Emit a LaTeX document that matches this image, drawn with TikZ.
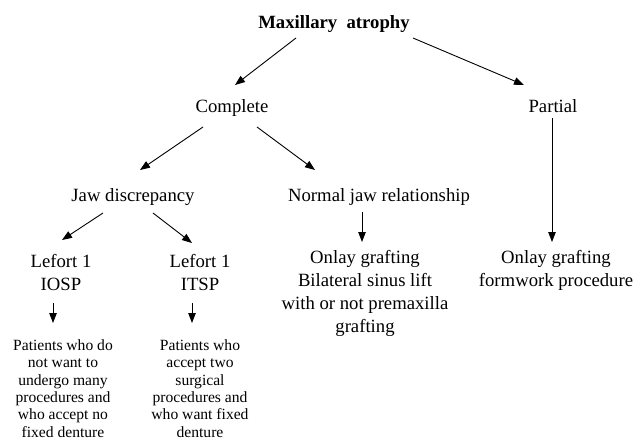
\documentclass[tikz,border=0pt]{standalone}
\usepackage{fontspec}
\setmainfont{Liberation Serif}
\usetikzlibrary{arrows.meta,calc}
\begin{document}
\begin{tikzpicture}[x=1pt,y=-1pt,
  lbl/.style={inner sep=0pt,anchor=north,align=center,font=\fontsize{18.7}{23}\selectfont},
  small/.style={inner sep=0pt,anchor=north,align=center,font=\fontsize{15.6}{17.4}\selectfont},
  arr/.style={line width=0.9pt,-{Triangle[length=10pt,width=7.5pt]}}]
\useasboundingbox (0,0) rectangle (643,442);
\node[lbl,font=\fontsize{18.7}{23}\selectfont\bfseries] (max) at (334,11.9) {\strut Maxillary\ \ atrophy};
\node[lbl] (comp) at (232,95.9) {\strut Complete};
\node[lbl] (part) at (553,95.9) {\strut Partial};
\node[lbl] (jaw) at (133,184.9) {\strut Jaw discrepancy};
\node[lbl] (norm) at (379,184.9) {\strut Normal jaw relationship};
\node[lbl] (iosp) at (61,250.9) {\strut Lefort 1\\IOSP};
\node[lbl] (itsp) at (200,250.9) {\strut Lefort 1\\ITSP};
\node[lbl] (onlay) at (365,246.9) {\strut Onlay grafting\\Bilateral sinus lift\\with or not premaxilla\\grafting};
\node[lbl] (form) at (556,246.9) {\strut Onlay grafting\\formwork procedure};
\node[small] (pat1) at (63,338) {\strut Patients who do\\not want to\\undergo many\\procedures and\\who accept no\\fixed denture};
\node[small] (pat2) at (200,338) {\strut Patients who\\accept two\\surgical\\procedures and\\who want fixed\\denture};
\draw[arr] ($(max.north)+(-38,26.1)$) -- ($(comp.north)+(3,-10.9)$);
\draw[arr] ($(max.north)+(79,26.1)$) -- ($(part.north)+(-29,-10.9)$);
\draw[arr] ($(comp.north)+(-29,31.1)$) -- ($(jaw.north)+(7,-14.9)$);
\draw[arr] ($(comp.north)+(25,31.1)$) -- ($(norm.north)+(-64,-14.9)$);
\draw[arr] ($(part.north)+(-1,22.1)$) -- ($(form.north)+(-4,-4.9)$);
\draw[arr] ($(norm.north)+(-17,27.1)$) -- ($(onlay.north)+(-3,-4.9)$);
\draw[arr] ($(jaw.north)+(-30,28.1)$) -- ($(iosp.north)+(1,-10.9)$);
\draw[arr] ($(jaw.north)+(20,28.1)$) -- ($(itsp.north)+(-8,-7.9)$);
\draw[arr] ($(iosp.north)+(-8,52.1)$) -- ($(pat1.north)+(-10,-15)$);
\draw[arr] ($(itsp.north)+(-8,52.1)$) -- ($(pat2.north)+(-8,-15)$);
\end{tikzpicture}
\end{document}
